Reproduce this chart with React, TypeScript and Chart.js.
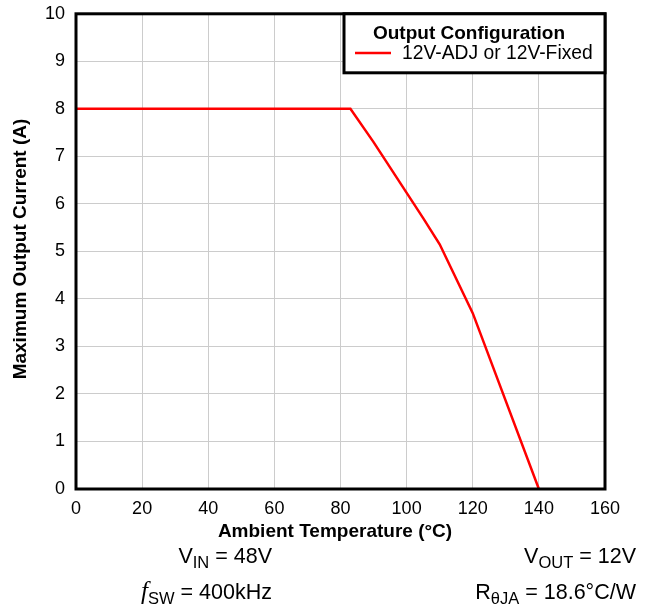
import React, { useEffect, useRef } from "react";
import { Chart, registerables } from "chart.js";

Chart.register(...registerables);

const temperatures = [0, 83, 90, 105, 110, 120, 140];
const currents = [8, 8, 7.3, 5.7, 5.15, 3.7, 0];
const seriesLabel = "12V-ADJ or 12V-Fixed";
const legendTitle = "Output Configuration";
const xTitle = "Ambient Temperature (°C)";
const yTitle = "Maximum Output Current (A)";

const FONT = "'Liberation Sans', Arial, sans-serif";

type Piece = { t: string; sub?: boolean; italic?: boolean };

const notesLeft: Piece[][] = [
  [{ t: "V" }, { t: "IN", sub: true }, { t: " = 48V" }],
  [{ t: "f", italic: true }, { t: "SW", sub: true }, { t: " = 400kHz" }],
];
const notesRight: Piece[][] = [
  [{ t: "V" }, { t: "OUT", sub: true }, { t: " = 12V" }],
  [{ t: "R" }, { t: "θJA", sub: true }, { t: " = 18.6°C/W" }],
];

function drawPieces(ctx: CanvasRenderingContext2D, pieces: Piece[], rightX: number, y: number) {
  const fontFor = (p: Piece) =>
    p.sub ? `16.5px ${FONT}` : p.italic ? `italic 25px 'Liberation Serif', serif` : `21.5px ${FONT}`;
  let total = 0;
  for (const p of pieces) {
    ctx.font = fontFor(p);
    total += ctx.measureText(p.t).width;
  }
  let x = rightX - total;
  ctx.textAlign = "left";
  ctx.textBaseline = "alphabetic";
  for (const p of pieces) {
    ctx.font = fontFor(p);
    ctx.fillText(p.t, x, p.sub ? y + 5 : y);
    x += ctx.measureText(p.t).width;
  }
}

const framePlugin = {
  id: "frameAndNotes",
  afterDatasetsDraw(chart: any) {
    const ctx = chart.ctx as CanvasRenderingContext2D;
    const a = chart.chartArea;
    ctx.save();
    ctx.strokeStyle = "#000";
    ctx.lineWidth = 3;
    ctx.strokeRect(a.left, a.top, a.right - a.left, a.bottom - a.top);

    // legend box
    const bx = 344, by = a.top, bw = a.right - 344, bh = 59;
    ctx.fillStyle = "#fff";
    ctx.fillRect(bx, by, bw, bh);
    ctx.lineWidth = 3;
    ctx.strokeRect(bx, by, bw, bh);
    ctx.fillStyle = "#000";
    ctx.font = `bold 19px ${FONT}`;
    ctx.textAlign = "center";
    ctx.textBaseline = "middle";
    ctx.fillText(legendTitle, 469, 34);
    ctx.strokeStyle = "#ff0000";
    ctx.lineWidth = 2.5;
    ctx.beginPath();
    ctx.moveTo(355, 53);
    ctx.lineTo(391, 53);
    ctx.stroke();
    ctx.font = `19.3px ${FONT}`;
    ctx.textAlign = "left";
    ctx.fillText(seriesLabel, 402, 54);

    // axis titles
    ctx.fillStyle = "#000";
    ctx.font = `bold 19px ${FONT}`;
    ctx.textAlign = "center";
    ctx.textBaseline = "middle";
    ctx.fillText(xTitle, 335, 532);
    ctx.save();
    ctx.translate(21, 249);
    ctx.rotate(-Math.PI / 2);
    ctx.fillText(yTitle, 0, 0);
    ctx.restore();

    // notes
    drawPieces(ctx, notesLeft[0], 272, 563);
    drawPieces(ctx, notesLeft[1], 272, 599);
    drawPieces(ctx, notesRight[0], 636, 563);
    drawPieces(ctx, notesRight[1], 636, 599);
    ctx.restore();
  },
};

export default function App() {
  const ref = useRef<HTMLCanvasElement | null>(null);
  useEffect(() => {
    if (!ref.current) return;
    const chart = new Chart(ref.current, {
      type: "line",
      data: {
        datasets: [
          {
            label: seriesLabel,
            data: temperatures.map((t, i) => ({ x: t, y: currents[i] })),
            borderColor: "#ff0000",
            borderWidth: 2.5,
            pointRadius: 0,
            tension: 0,
            fill: false,
          },
        ],
      },
      options: {
        responsive: false,
        animation: false,
        devicePixelRatio: 1,
        layout: { padding: { left: 0, right: 45, top: 0, bottom: 72 } },
        plugins: { legend: { display: false }, tooltip: { enabled: false } },
        scales: {
          x: {
            type: "linear",
            min: 0,
            max: 160,
            afterFit: (s: any) => {
              s.height = 50;
            },
            ticks: { stepSize: 20, color: "#000", font: { family: FONT, size: 18 }, padding: 9 },
            grid: { color: "#cccccc", lineWidth: 1, drawTicks: false },
            border: { display: false },
            title: { display: false },
          },
          y: {
            min: 0,
            max: 10,
            afterFit: (s: any) => {
              s.width = 76;
            },
            ticks: { stepSize: 1, color: "#000", font: { family: FONT, size: 18 }, padding: 3 },
            grid: { color: "#cccccc", lineWidth: 1, drawTicks: true, tickLength: 8, tickColor: "rgba(0,0,0,0)" },
            border: { display: false },
            title: { display: false },
          },
        },
      },
      plugins: [framePlugin],
    } as any);
    return () => chart.destroy();
  }, []);
  return (
    <div style={{ position: "absolute", left: 0, top: 0, width: 650, height: 611, background: "#fff" }}>
      <canvas ref={ref} width={650} height={611} style={{ width: 650, height: 611 }} />
    </div>
  );
}
